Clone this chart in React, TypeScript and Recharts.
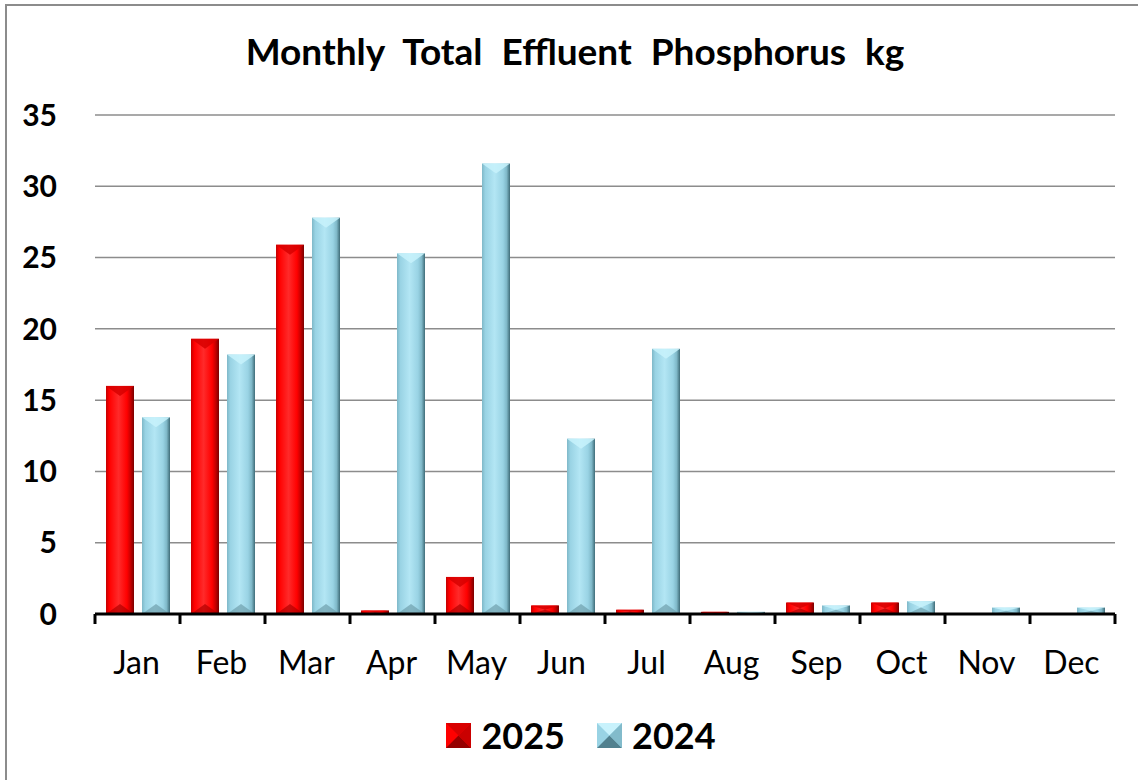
import React from 'react';
import { BarChart, Bar, XAxis, YAxis, CartesianGrid, Legend } from 'recharts';

const months = ['Jan', 'Feb', 'Mar', 'Apr', 'May', 'Jun', 'Jul', 'Aug', 'Sep', 'Oct', 'Nov', 'Dec'];
const values2025: (number | null)[] = [16.0, 19.3, 25.9, 0.25, 2.6, 0.6, 0.3, 0.15, 0.8, 0.8, null, null];
const values2024: (number | null)[] = [13.8, 18.2, 27.8, 25.3, 31.6, 12.3, 18.6, 0.15, 0.6, 0.9, 0.45, 0.45];
const yTicks = [0, 5, 10, 15, 20, 25, 30, 35];
const seriesNames = ['2025', '2024'];

const data = months.map((m, i) => ({ month: m, s2025: values2025[i], s2024: values2024[i] }));

const FONT = 'Lato, "Open Sans", sans-serif';
const TICK_SIZE = 10;
const TICK_MARGIN = 27;

const palettes: Record<string, { edge: string; base: string; light: string; dark: string; top: string; bottom: string }> = {
  s2025: { edge: '#c40000', base: '#ff0000', light: '#ff2a2a', dark: '#7a0000', top: '#d80000', bottom: '#b00000' },
  s2024: { edge: '#7fb8c8', base: '#99d3e4', light: '#b3e6f4', dark: '#3f6c78', top: '#c8f2fc', bottom: '#6f9fac' },
};

function GradientDefs({ prefix }: { prefix: string }) {
  return (
    <defs>
      {Object.keys(palettes).map((k) => {
        const p = palettes[k];
        return (
          <linearGradient key={k} id={`${prefix}-${k}`} x1="0" y1="0" x2="1" y2="0">
            <stop offset="0%" stopColor={p.edge} />
            <stop offset="12%" stopColor={p.base} />
            <stop offset="45%" stopColor={p.light} />
            <stop offset="75%" stopColor={p.base} />
            <stop offset="88%" stopColor={p.edge} />
            <stop offset="100%" stopColor={p.dark} />
          </linearGradient>
        );
      })}
    </defs>
  );
}

function BevelBar(props: any) {
  const { x, y, width: w, height: h, dataKey } = props;
  if (h == null || h <= 0 || !w) return null;
  const p = palettes[dataKey];
  const b = Math.min(w / 2.6, h / 2, 10);
  return (
    <g>
      <rect x={x} y={y} width={w} height={h} fill={`url(#bar-${dataKey})`} />
      <polygon points={`${x},${y} ${x + w},${y} ${x + w / 2},${y + b}`} fill={p.top} opacity={0.85} />
      <polygon points={`${x},${y + h} ${x + w},${y + h} ${x + w / 2},${y + h - b}`} fill={p.bottom} opacity={0.7} />
    </g>
  );
}

function XTick(props: any) {
  const { x, y, payload, index, visibleTicksCount } = props;
  const half = payload && payload.offset ? payload.offset : 42.5;
  const axisY = y - TICK_SIZE - TICK_MARGIN;
  const isLast = index === (visibleTicksCount ?? months.length) - 1;
  return (
    <g>
      <line x1={x - half} x2={x - half} y1={axisY} y2={axisY + TICK_SIZE} stroke="#000" strokeWidth={3} />
      {isLast && (
        <line x1={x + half} x2={x + half} y1={axisY} y2={axisY + TICK_SIZE} stroke="#000" strokeWidth={3} />
      )}
      <text x={x - 1} y={y} dy="0.71em" textAnchor="middle" fill="#000" fontSize={32} fontFamily={FONT}>
        {payload.value}
      </text>
    </g>
  );
}

function LegendIcon({ k }: { k: string }) {
  const p = palettes[k];
  const s = 25;
  return (
    <svg width={s} height={s} style={{ display: 'block' }}>
      <rect x={0} y={0} width={s} height={s} fill={p.base} />
      <polygon points={`0,0 ${s},0 ${s / 2},${s / 2}`} fill={p.top} />
      <polygon points={`0,${s} ${s},${s} ${s / 2},${s / 2}`} fill={p.dark} opacity={0.8} />
      <polygon points={`${s},0 ${s},${s} ${s / 2},${s / 2}`} fill={p.edge} opacity={0.9} />
    </svg>
  );
}

function LegendContent() {
  const keys = ['s2025', 's2024'];
  return (
    <div style={{ height: 50, display: 'flex', justifyContent: 'center', alignItems: 'center', gap: 32, paddingLeft: 24 }}>
      {keys.map((k, i) => (
        <div key={k} style={{ display: 'flex', alignItems: 'center', gap: 10 }}>
          <LegendIcon k={k} />
          <span style={{ fontFamily: FONT, fontWeight: 700, fontSize: 36, color: '#000', lineHeight: '50px' }}>
            {seriesNames[i]}
          </span>
        </div>
      ))}
    </div>
  );
}

export default function App() {
  return (
    <div style={{ position: 'absolute', left: 0, top: 0, width: 1138, height: 780, overflow: 'hidden', background: '#fff' }}>
      <div
        style={{
          position: 'absolute', left: 5, top: 4, width: 1150, height: 800,
          borderLeft: '2px solid #8c8c8c', borderTop: '2px solid #8c8c8c', boxSizing: 'border-box',
        }}
      />
      <div
        style={{
          position: 'absolute', left: 0, top: 26, width: 1150, textAlign: 'center',
          fontFamily: FONT, fontWeight: 700, fontSize: 37, wordSpacing: 10, color: '#000', lineHeight: '50px',
        }}
      >
        Monthly Total Effluent Phosphorus kg
      </div>
      <div style={{ position: 'absolute', left: 0, top: 0 }}>
        <BarChart
          width={1138}
          height={780}
          data={data}
          margin={{ top: 115, right: 23, bottom: 36, left: 0 }}
          barGap={8}
          barSize={28}
        >
          <GradientDefs prefix="bar" />
          <CartesianGrid vertical={false} stroke="#8c8c8c" strokeWidth={1.5} />
          <XAxis
            dataKey="month"
            height={80}
            axisLine={{ stroke: '#000', strokeWidth: 3 }}
            tickLine={false}
            tickSize={TICK_SIZE}
            tickMargin={TICK_MARGIN}
            tick={<XTick />}
            interval={0}
          />
          <YAxis
            width={95}
            domain={[0, 35]}
            ticks={yTicks}
            axisLine={false}
            tickLine={false}
            tickMargin={32}
            tick={{ fontSize: 30, fontWeight: 700, fill: '#000', fontFamily: FONT }}
          />
          <Legend
            verticalAlign="bottom"
            content={<LegendContent />}
            wrapperStyle={{ top: 710, bottom: 'auto', left: 0, width: 1138 }}
          />
          <Bar dataKey="s2025" name="2025" isAnimationActive={false} shape={<BevelBar />} />
          <Bar dataKey="s2024" name="2024" isAnimationActive={false} shape={<BevelBar />} />
        </BarChart>
      </div>
    </div>
  );
}
